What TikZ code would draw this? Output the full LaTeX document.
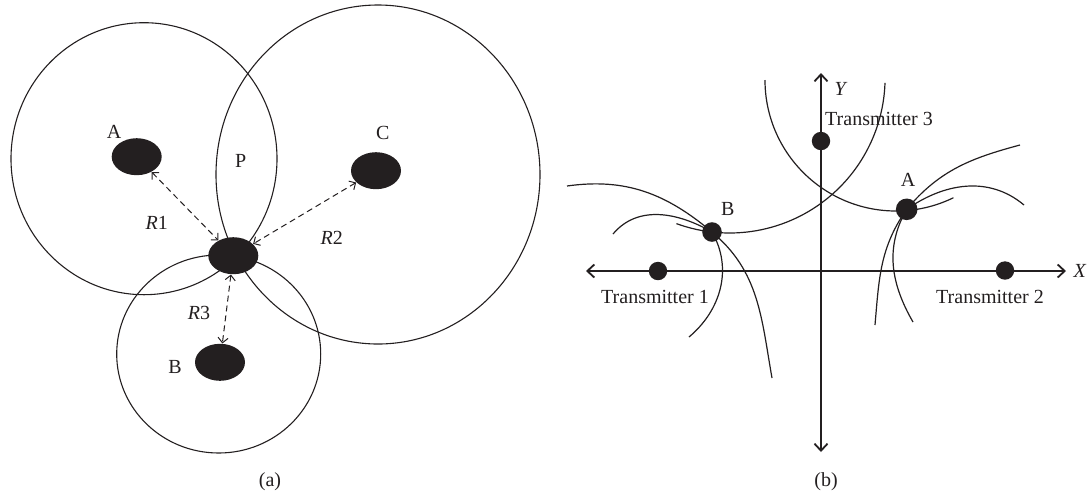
\documentclass[tikz,border=0pt]{standalone}
\usepackage{fontspec}
\setmainfont{Liberation Serif}
\usetikzlibrary{shapes.geometric, positioning, arrows.meta}
\definecolor{ink}{RGB}{35,31,32}

\begin{document}
\begin{tikzpicture}[
        x=0.5pt, y=0.5pt,
        blob/.style={ellipse, fill=ink, minimum width=25pt, minimum height=18.5pt, inner sep=0pt},
        dot/.style={circle, fill=ink, minimum size=9.2pt, inner sep=0pt},
        lbl/.style={font=\fontsize{10}{12}\selectfont, text=ink, inner sep=0pt},
        ring/.style={draw=ink, line width=0.55pt},
        rng/.style={draw=ink, line width=0.5pt, dash pattern=on 3pt off 2pt, {Straight Barb[length=2.5pt,width=5pt]}-{Straight Barb[length=2.5pt,width=5pt]}},
        axis/.style={draw=ink, line width=0.9pt, {Straight Barb[length=3.5pt,width=6.5pt]}-{Straight Barb[length=3.5pt,width=6.5pt]}},
        hyp/.style={draw=ink, line width=0.6pt}
    ]
    \useasboundingbox (0,0) rectangle (1089,-494);

    % (a) circles
    \draw[ring] (144,-158.7) ellipse [x radius=66.5pt, y radius=68pt];
    \draw[ring] (378,-174.5) ellipse [x radius=81pt, y radius=84.75pt];
    \draw[ring] (218.7,-354) ellipse [x radius=51pt, y radius=49.5pt];

    % (a) nodes
    \node[blob] (nodeA) at (136.7,-156.7) {};
    \node[blob] (nodeC) at (376,-170.7) {};
    \node[blob] (target) at (233.3,-255.7) {};
    \node[blob] (nodeB) at (220,-362.3) {};

    \node[lbl] (labA) at (114,-132) {A};
    \node[lbl] (labC) at (382.7,-133) {C};
    \node[lbl] (labP) at (240.7,-161) {P};
    \node[lbl] (labB) at (175,-367) {B};
    \node[lbl] (labR1) at (156.7,-223) {\textit{R}1};
    \node[lbl] (labR2) at (331.7,-238) {\textit{R}2};
    \node[lbl] (labR3) at (199,-313) {\textit{R}3};
    \node[lbl] (capa) at (270,-482) {(a)};

    % (a) ranges
    \draw[rng] (nodeA) -- (target);
    \draw[rng] (nodeC) -- (target);
    \draw[rng] (target) -- (nodeB);

    % (b) axes
    \coordinate (xl) at (586,-271);
    \coordinate (xr) at (1066,-271);
    \coordinate (yt) at (821,-73);
    \coordinate (yb) at (821,-452);
    \draw[axis] (xl) -- (xr);
    \draw[axis] (yt) -- (yb);

    % (b) transmitters and points
    \node[dot] (tx1) at (658,-271) {};
    \node[dot] (tx2) at (1005,-270.5) {};
    \node[dot] (tx3) at (821,-141) {};
    \node[dot, minimum size=9.8pt] (ptB) at (712,-232) {};
    \node[dot, minimum size=10.8pt] (ptA) at (906.7,-209.3) {};

    % (b) curves
    \coordinate (c1s) at (567,-186);
    \coordinate (c1e) at (772,-378);
    \coordinate (c2s) at (613,-234);
    \coordinate (c2e) at (689,-337);
    \coordinate (a1s) at (1020,-145);
    \coordinate (a1e) at (875,-325);
    \coordinate (a2s) at (1024,-205);
    \coordinate (a2e) at (913,-322);
    \coordinate (t3a) at (896,-80);
    \coordinate (t3b) at (729.6,-77.5);

    \draw[hyp] (c1s) to[out=8,in=140] (ptB.center) to[out=-40,in=100] (c1e);
    \draw[hyp] (c2s) to[out=50,in=150] (ptB.center) to[out=-60,in=40] (c2e);
    \draw[hyp] (a1s) to[out=195,in=50] (ptA.center) to[out=235,in=85] (a1e);
    \draw[hyp] (a2s) to[out=140,in=35] (ptA.center) to[out=240,in=120] (a2e);
    \draw[hyp] ([shift={(180:65.5pt)}]t3a) arc[start angle=180, end angle=296, radius=65.5pt];
    \draw[hyp] ([shift={(250:77.75pt)}]t3b) arc[start angle=250, end angle=358, radius=77.75pt];

    % (b) labels
    \node[lbl] (labX) at (1080,-271) {\textit{X}};
    \node[lbl] (labY) at (841,-89) {\textit{Y}};
    \node[lbl] (lab1) at (655,-297) {Transmitter 1};
    \node[lbl] (lab2) at (990,-297) {Transmitter 2};
    \node[lbl] (lab3) at (879,-119) {Transmitter 3};
    \node[lbl] (labpA) at (908,-180) {A};
    \node[lbl] (labpB) at (727.7,-209.3) {B};
    \node[lbl] (capb) at (826,-482) {(b)};

\end{tikzpicture}
\end{document}
